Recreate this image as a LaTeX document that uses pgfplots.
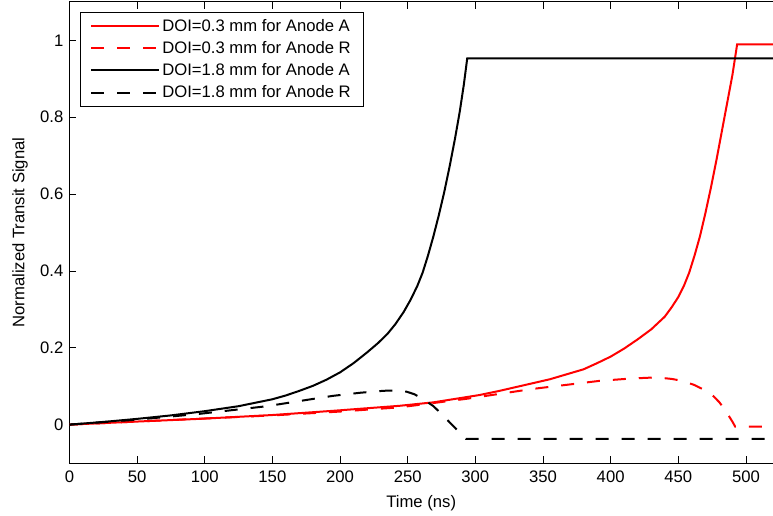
\documentclass[border=0pt]{standalone}
\usepackage{pgfplots}
\pgfplotsset{compat=1.18}
\usepackage{fontspec}
\setmainfont{Liberation Sans}

\pgfplotstableread{
x y
0 0
25 0.007
50 0.015
75 0.024
100 0.035
125 0.048
150 0.066
160 0.076
170 0.088
180 0.101
190 0.117
200 0.136
210 0.160
220 0.188
228 0.212
235 0.236
241 0.262
247 0.293
252 0.324
257 0.360
261 0.395
265 0.440
269 0.490
273 0.545
277 0.605
281 0.672
285 0.745
288.5 0.815
291.5 0.885
294 0.953
520 0.953
}\blackA

\pgfplotstableread{
x y
0 0
50 0.013
96 0.028
146 0.048
182 0.068
195 0.075
215 0.083
232 0.088
240 0.089
249 0.086
255 0.079
259 0.071
264 0.060
268.7 0.049
275 0.028
281 0.006
286 -0.012
291 -0.030
293 -0.037
520 -0.037
}\blackR

\pgfplotstableread{
x y
0 0
50 0.008
96 0.015
150 0.025
195 0.036
244 0.049
269 0.058
303 0.077
318 0.088
355 0.118
380 0.144
390 0.160
400 0.177
410 0.198
420 0.222
430 0.248
440 0.281
445 0.305
450 0.332
454 0.360
458 0.395
462 0.440
466 0.490
470 0.550
474 0.615
478 0.685
482 0.760
486 0.835
490 0.910
493.5 0.990
520 0.990
}\redA

\pgfplotstableread{
x y
0 0
50 0.008
100 0.016
150 0.024
200 0.034
244 0.045
293 0.067
342.5 0.093
392 0.114
415 0.120
434 0.123
445 0.119
453 0.114
462 0.103
470.6 0.088
476 0.074
480.4 0.058
485 0.036
490.3 0.006
492 -0.005
520 -0.005
}\redR

\begin{document}
\begin{tikzpicture}[font=\fontsize{12.5}{14.5}\selectfont]
\begin{axis}[
  at={(0,0)}, anchor=south west,
  scale only axis,
  width=528pt, height=346pt,
  xmin=0, xmax=520, ymin=-0.1, ymax=1.1,
  axis x line*=box,
  axis y line*=left,
  axis line style={-, line width=0.75pt},
  xtick={0,50,...,500},
  ytick={0,0.2,0.4,0.6,0.8,1},
  tick align=inside,
  major tick length=5pt,
  tick style={line width=0.6pt, black},
  /pgf/number format/assume math mode=true,
  xlabel={Time (ns)},
  ylabel={Normalized Transit Signal},
  xlabel style={at={(axis description cs:0.5,-0.088)}, anchor=center},
  ylabel style={at={(axis description cs:-0.0701,0.5)}, anchor=center},
  yticklabel style={xshift=-1pt},
  xticklabel style={yshift=-2pt},
  legend cell align=left,
  legend style={at={(0.0149,0.978)}, anchor=north west, draw=black, line width=0.75pt,
    inner xsep=7.5pt, inner ysep=3pt, row sep=2pt, font=\fontsize{12.5}{14.5}\selectfont},
  legend image code/.code={\draw[#1] (0pt,0pt) -- (48pt,0pt); \path (0pt,0pt) -- (50.5pt,0pt);},
]
\addplot[red, line width=1.5pt] table[x=x,y=y] {\redA};
\addlegendentry{DOI=0.3 mm for Anode A}
\addplot[red, line width=1.5pt, dash pattern=on 9.75pt off 9.75pt] table[x=x,y=y] {\redR};
\addlegendentry{DOI=0.3 mm for Anode R}
\addplot[black, line width=1.5pt] table[x=x,y=y] {\blackA};
\addlegendentry{DOI=1.8 mm for Anode A}
\addplot[black, line width=1.5pt, dash pattern=on 9.75pt off 9.75pt] table[x=x,y=y] {\blackR};
\addlegendentry{DOI=1.8 mm for Anode R}
\end{axis}
\pgfresetboundingbox
\useasboundingbox (-52.1pt,-39.5pt) rectangle (528pt,347.5pt);
\end{tikzpicture}
\end{document}
